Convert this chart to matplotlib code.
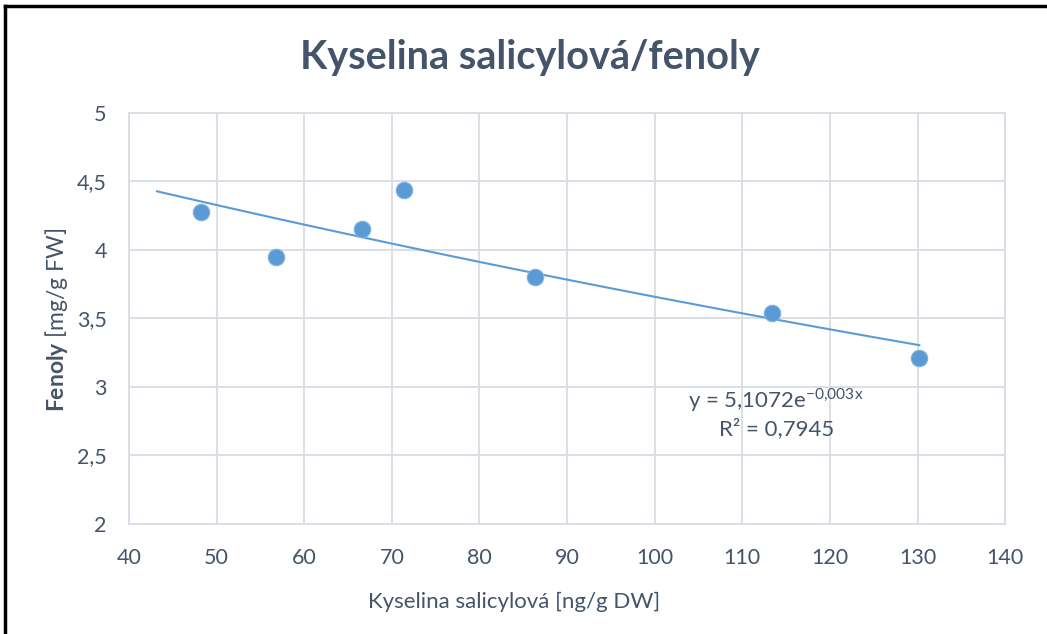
import numpy as np
import matplotlib
matplotlib.use("Agg")
import matplotlib.pyplot as plt
from matplotlib.lines import Line2D

# data
salicylova = [48.2, 56.8, 66.6, 71.4, 86.3, 113.4, 130.2]   # ng/g DW
fenoly = [4.28, 3.95, 4.15, 4.44, 3.80, 3.54, 3.21]         # mg/g FW
x_ticks = [40, 50, 60, 70, 80, 90, 100, 110, 120, 130, 140]
y_ticks = [2, 2.5, 3, 3.5, 4, 4.5, 5]
y_ticklabels = ["2", "2,5", "3", "3,5", "4", "4,5", "5"]
rovnice = r"y = 5,1072e$^{\mathrm{-0{,}003x}}$"
r2_text = "R² = 0,7945"

plt.rcParams['font.family'] = ['Lato', 'DejaVu Sans']
plt.rcParams['mathtext.fontset'] = 'custom'
plt.rcParams['mathtext.rm'] = 'Lato'
plt.rcParams['mathtext.bf'] = 'Lato:bold'

txt = "#44546A"
grid_c = "#D9DDE4"
blue = "#5B9BD5"

fig = plt.figure(figsize=(10.47, 6.34), dpi=100)
ax = fig.add_axes([0.1232, 0.1735, 0.8368, 0.6483])

# exponential trendline fitted to the points (Excel style, backward forecast 5)
b, ln_a = np.polyfit(salicylova, np.log(fenoly), 1)
xs = np.linspace(min(salicylova) - 5, max(salicylova), 100)
ax.plot(xs, np.exp(ln_a) * np.exp(b * xs), color=blue, lw=1.5, zorder=2)

ax.scatter(salicylova, fenoly, s=140, color=blue, edgecolors="#7FB2E0",
           linewidths=0.8, zorder=3)

ax.set_xlim(40, 140)
ax.set_ylim(2, 5)
ax.set_xticks(x_ticks)
ax.set_yticks(y_ticks)
ax.set_yticklabels(y_ticklabels)
ax.grid(True, color=grid_c, lw=1.3)
ax.set_axisbelow(True)
for s in ax.spines.values():
    s.set_color(grid_c)
    s.set_linewidth(1.3)
ax.tick_params(length=0, labelsize=15.5, colors=txt)
ax.tick_params(axis='x', pad=17)
ax.tick_params(axis='y', pad=16)

ax.set_xlabel("Kyselina salicylová [ng/g DW]", fontsize=16, color=txt)
ax.xaxis.set_label_coords(0.44, -0.166)
# y axis title placed directly in figure coords
fig.text(57 / 1047, 1 - 320 / 634, r"$\mathbf{Fenoly}$ [mg/g FW]", fontsize=16.5,
         color=txt, rotation=90, ha="center", va="center")

fig.text(776 / 1047, 1 - 400 / 634, rovnice, fontsize=16, color=txt,
         ha="center", va="center")
fig.text(777 / 1047, 1 - 429 / 634, r2_text, fontsize=16, color=txt,
         ha="center", va="center")

fig.suptitle("Kyselina salicylová/fenoly", x=530 / 1047, y=1 - 57 / 634,
             fontsize=28.5, fontweight="bold", color=txt, va="center")

# outer frame (top and left edges visible in the crop)
fig.add_artist(Line2D([0.005, 1], [1 - 6 / 634, 1 - 6 / 634],
                      transform=fig.transFigure, color="black", lw=2.5))
fig.add_artist(Line2D([5 / 1047, 5 / 1047], [0, 1 - 6 / 634],
                      transform=fig.transFigure, color="black", lw=2.5))

fig.savefig("out.png", dpi=100)
